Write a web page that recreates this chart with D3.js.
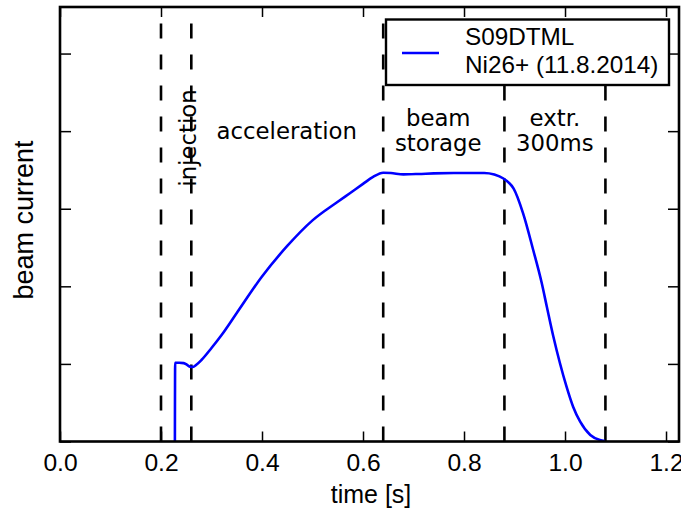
<!DOCTYPE html>
<html>
<head>
<meta charset="utf-8">
<script src="https://cdn.jsdelivr.net/npm/d3@7"></script>
<style>
  html, body { margin: 0; padding: 0; background: #fff; }
  svg { display: block; }
  .tick text { font-family: "Liberation Sans", Arial, sans-serif; }
</style>
</head>
<body>
<svg id="chart" width="681" height="514"></svg>
<script>
// Beam current signal of S09DTML during one machine cycle (arbitrary units)
const timeS = [0.2275, 0.228, 0.236, 0.245, 0.251, 0.257, 0.263, 0.27, 0.28, 0.30, 0.32, 0.35,
  0.40, 0.45, 0.50, 0.55, 0.574, 0.60, 0.62, 0.64, 0.655, 0.68, 0.71, 0.74, 0.78, 0.84,
  0.86, 0.878, 0.888, 0.898, 0.917, 0.937, 0.954, 0.964, 0.977, 0.990, 1.003, 1.016,
  1.030, 1.050, 1.069, 1.079];
const current = [0, 1.015, 1.015, 1.01, 0.99, 0.965, 0.962, 0.99, 1.05, 1.205, 1.372, 1.656,
  2.126, 2.52, 2.85, 3.09, 3.2, 3.32, 3.41, 3.464, 3.46, 3.443, 3.448, 3.456, 3.46, 3.46,
  3.44, 3.39, 3.34, 3.263, 2.941, 2.468, 2.039, 1.737, 1.35, 1.008, 0.706, 0.448,
  0.255, 0.084, 0.019, 0.006];

// Phase boundaries of the cycle (s)
const phaseBounds = [0.2, 0.26, 0.64, 0.88, 1.08];
// Phase annotations
const phaseLabels = [
  { t: 0.449, lines: ["acceleration"], y0: 139 },
  { t: 0.749, lines: ["beam", "storage"], y0: 126 },
  { t: 0.98,  lines: ["extr.", "300ms"], y0: 126 }
];
const injectionLabel = { t: 0.251, text: "injection" };

const xTicks = [0, 0.2, 0.4, 0.6, 0.8, 1.0, 1.2];
const yTicks = [0, 1, 2, 3, 4, 5];
const legendLines = ["S09DTML", "Ni26+ (11.8.2014)"];

const svg = d3.select("#chart");
const plotL = 60, plotR = 679, plotT = 7, plotB = 441.5;

const x = d3.scaleLinear().domain([0, 1.2257]).range([plotL, plotR]);
const y = d3.scaleLinear().domain([0, 5.6]).range([plotB, plotT]);

svg.append("defs").append("clipPath").attr("id", "plotclip")
  .append("rect").attr("x", plotL).attr("y", plotT)
  .attr("width", plotR - plotL).attr("height", plotB - plotT);

// Dashed phase boundaries
svg.append("g").selectAll("line").data(phaseBounds).join("line")
  .attr("x1", d => x(d)).attr("x2", d => x(d))
  .attr("y1", plotB).attr("y2", plotT)
  .attr("stroke", "#000").attr("stroke-width", 2.6)
  .attr("stroke-dasharray", "15,16");

// Signal trace
const pts = timeS.map((t, i) => [t, current[i]]);
svg.append("path")
  .attr("clip-path", "url(#plotclip)")
  .attr("d", d3.line().x(d => x(d[0])).y(d => y(d[1])).curve(d3.curveMonotoneX)(pts))
  .attr("fill", "none").attr("stroke", "#0000ff").attr("stroke-width", 2.6)
  .attr("stroke-linejoin", "round");

// Phase text
const annFont = "'DejaVu Sans', sans-serif";
phaseLabels.forEach(p => {
  const txt = svg.append("text")
    .attr("x", x(p.t)).attr("y", p.y0)
    .attr("text-anchor", "middle")
    .attr("font-family", annFont).attr("font-size", 22.8).attr("fill", "#000");
  p.lines.forEach((l, i) => {
    txt.append("tspan").attr("x", x(p.t)).attr("dy", i === 0 ? 0 : 25).text(l);
  });
});
svg.append("text")
  .attr("transform", `translate(${x(injectionLabel.t) + 9},138) rotate(-90)`)
  .attr("text-anchor", "middle")
  .attr("font-family", annFont).attr("font-size", 22.8).attr("fill", "#000")
  .text(injectionLabel.text);

// Axes with inward ticks
const fmt = d3.format(".1f");
const gx = svg.append("g").attr("transform", `translate(0,${plotB})`)
  .call(d3.axisBottom(x).tickValues(xTicks).tickFormat(fmt).tickSizeInner(-10).tickSizeOuter(0).tickPadding(12.5));
const gxTop = svg.append("g").attr("transform", `translate(0,${plotT})`)
  .call(d3.axisTop(x).tickValues(xTicks).tickFormat("").tickSizeInner(-10).tickSizeOuter(0));
const gy = svg.append("g").attr("transform", `translate(${plotL},0)`)
  .call(d3.axisLeft(y).tickValues(yTicks).tickFormat("").tickSizeInner(-11).tickSizeOuter(0));
const gyR = svg.append("g").attr("transform", `translate(${plotR},0)`)
  .call(d3.axisRight(y).tickValues(yTicks).tickFormat("").tickSizeInner(-11).tickSizeOuter(0));
[gx, gxTop, gy, gyR].forEach(g => {
  g.select(".domain").remove();
  g.selectAll(".tick line").attr("stroke", "#000").attr("stroke-width", 1.5);
});
gx.selectAll(".tick text").attr("font-size", 24.6).attr("fill", "#000");

// Frame
svg.append("rect")
  .attr("x", plotL).attr("y", plotT).attr("width", plotR - plotL).attr("height", plotB - plotT)
  .attr("fill", "none").attr("stroke", "#000").attr("stroke-width", 2.6);

// Axis titles
svg.append("text")
  .attr("x", (plotL + plotR) / 2 + 1.5).attr("y", 503)
  .attr("text-anchor", "middle")
  .attr("font-family", "'Liberation Sans', Arial, sans-serif").attr("font-size", 25)
  .text("time [s]");
svg.append("text")
  .attr("transform", "translate(33,220) rotate(-90)")
  .attr("text-anchor", "middle")
  .attr("font-family", "'Liberation Sans', Arial, sans-serif").attr("font-size", 27)
  .text("beam current");

// Legend
const lg = svg.append("g");
lg.append("rect").attr("x", 386).attr("y", 19.5).attr("width", 283).attr("height", 65.5)
  .attr("fill", "#fff").attr("stroke", "#000").attr("stroke-width", 2.4);
lg.append("line").attr("x1", 402).attr("x2", 439).attr("y1", 53).attr("y2", 53)
  .attr("stroke", "#0000ff").attr("stroke-width", 2.6);
legendLines.forEach((l, i) => {
  lg.append("text").attr("x", 465).attr("y", 45 + i * 28)
    .attr("font-family", "'Liberation Sans', Arial, sans-serif").attr("font-size", 24.3)
    .text(l);
});
</script>
</body>
</html>
